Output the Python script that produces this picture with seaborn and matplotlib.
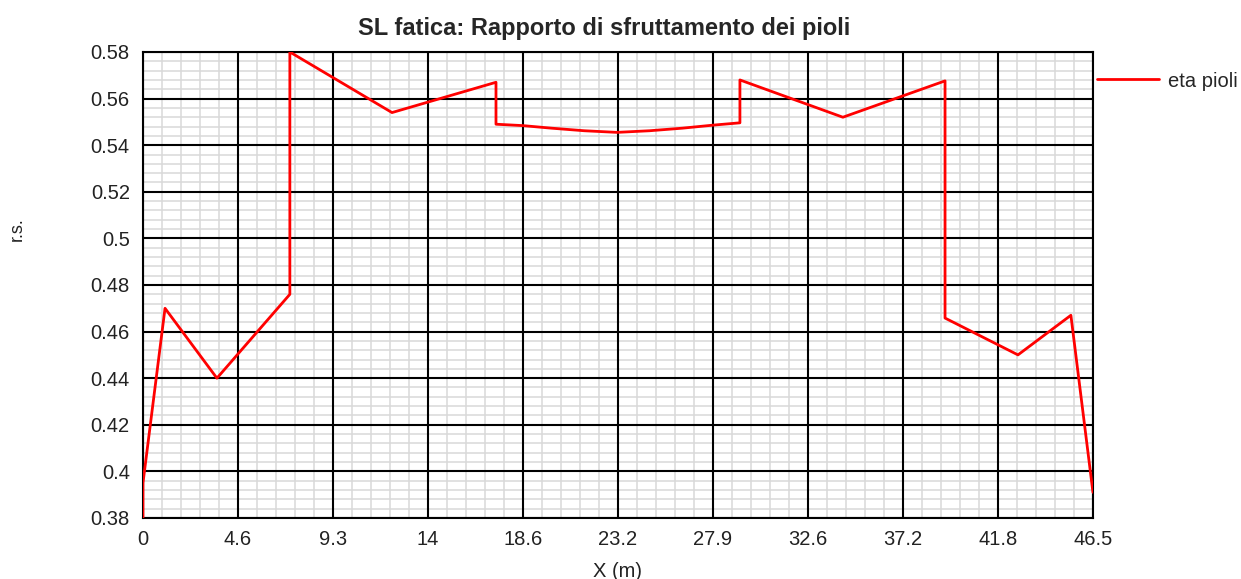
import numpy as np
import pandas as pd
import matplotlib
matplotlib.use("Agg")
import matplotlib.pyplot as plt
import seaborn as sns

# Stud utilisation ratio along the beam (fatigue limit state)
x_m = [0.0, 0.0, 1.08, 3.62, 7.19, 7.19, 12.19, 17.28, 17.28, 18.6, 20.0,
       21.6, 23.2, 24.8, 26.4, 27.9, 29.22, 29.22, 34.26, 39.26, 39.26,
       42.83, 45.42, 46.5]
eta = [0.380, 0.395, 0.470, 0.440, 0.476, 0.580, 0.554, 0.567, 0.549, 0.5484,
       0.5473, 0.5462, 0.5455, 0.5462, 0.5473, 0.5486, 0.5496, 0.568, 0.552,
       0.5676, 0.4658, 0.450, 0.467, 0.391]

x_tick_labels = ["0", "4.6", "9.3", "14", "18.6", "23.2", "27.9", "32.6",
                 "37.2", "41.8", "46.5"]
y_tick_labels = ["0.38", "0.4", "0.42", "0.44", "0.46", "0.48", "0.5", "0.52",
                 "0.54", "0.56", "0.58"]

title = "SL fatica: Rapporto di sfruttamento dei pioli"
series_name = "eta pioli"
x_label = "X (m)"
y_label = "r.s."

x_min, x_max = 0.0, 46.5
y_min, y_max = 0.38, 0.58

sns.set_style("white")
plt.rcParams["font.family"] = ["Liberation Sans", "DejaVu Sans"]

df = pd.DataFrame({"x": x_m, "eta": eta})

fig = plt.figure(figsize=(12.41, 5.79), dpi=100)
ax = fig.add_axes([0.1152, 0.1054, 0.7655, 0.8048])

sns.lineplot(data=df, x="x", y="eta", ax=ax, sort=False, estimator=None,
             color="#ff0000", linewidth=2.0, label=series_name, zorder=5)

ax.set_xlim(x_min, x_max)
ax.set_ylim(y_min, y_max)

# Major ticks: 10 equal intervals; minor grid: 5 subdivisions per interval
n_x = len(x_tick_labels) - 1
n_y = len(y_tick_labels) - 1
x_major = np.linspace(x_min, x_max, n_x + 1)
y_major = np.linspace(y_min, y_max, n_y + 1)
x_minor = [x_min + i * (x_max - x_min) / (n_x * 5)
           for i in range(n_x * 5 + 1) if i % 5]
y_minor = [y_min + i * (y_max - y_min) / (n_y * 5)
           for i in range(n_y * 5 + 1) if i % 5]

ax.set_xticks(x_major)
ax.set_xticklabels(x_tick_labels)
ax.set_yticks(y_major)
ax.set_yticklabels(y_tick_labels)
ax.set_xticks(x_minor, minor=True)
ax.set_yticks(y_minor, minor=True)

# light minor grid underneath, black major grid on top of it
ax.grid(which="minor", color="#d9d9d9", linewidth=1.1)
ax.grid(which="major", visible=False)
ax.set_axisbelow(True)
ax.vlines(x_major, y_min, y_max, colors="black", linewidth=1.5, zorder=2)
ax.hlines(y_major, x_min, x_max, colors="black", linewidth=1.5, zorder=2)
for s in ax.spines.values():
    s.set_color("black")
    s.set_linewidth(1.5)

ax.tick_params(which="both", length=0, labelsize=14.5, colors="#222222")
ax.tick_params(axis="y", pad=9.5)
ax.tick_params(axis="x", pad=9)

ax.set_title(title, fontsize=17, fontweight="bold", pad=12, x=0.485)
ax.set_xlabel(x_label, fontsize=14.5, color="#222222", labelpad=9)
ax.set_ylabel(y_label, fontsize=13, color="#222222")
ax.yaxis.set_label_coords(-0.123, 0.62)

ax.legend(loc="center left", bbox_to_anchor=(1097 / 1241, 1 - 81 / 579),
          bbox_transform=fig.transFigure, frameon=False, borderpad=0,
          borderaxespad=0, fontsize=14.5, handlelength=3.1,
          handletextpad=0.45)

fig.savefig("out.png", dpi=100)
